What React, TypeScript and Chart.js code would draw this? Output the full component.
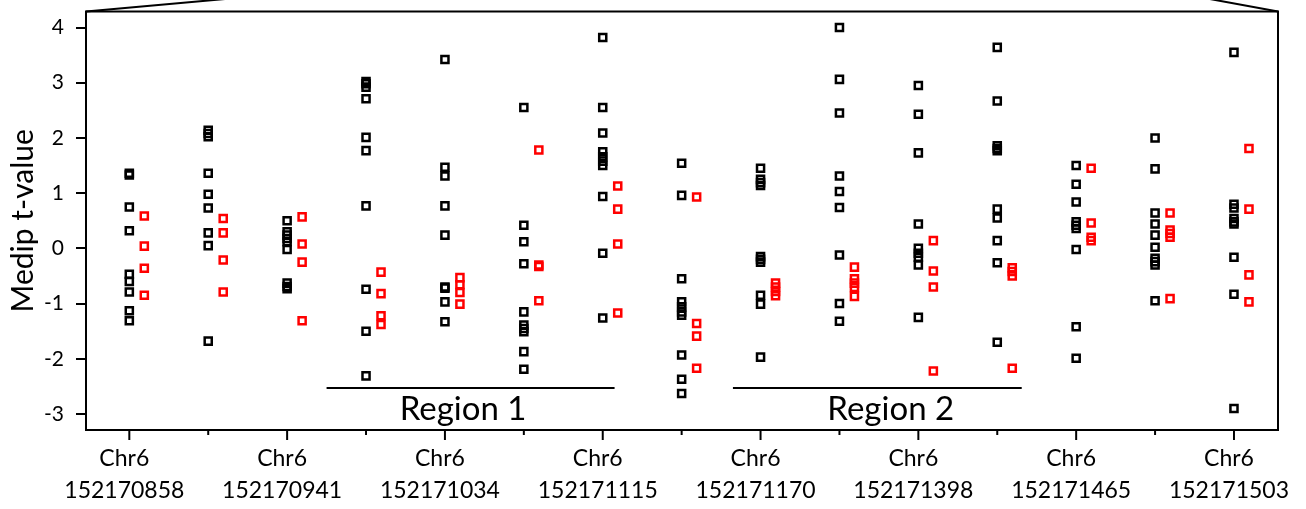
import React, { useEffect, useRef } from "react";
import { Chart, registerables } from "chart.js";
Chart.register(...registerables);

const FONT = "Lato, 'Open Sans', sans-serif";

const chromosome = "Chr6";
const labeledPositions = ["152170858", "152170941", "152171034", "152171115", "152171170", "152171398", "152171465", "152171503"];
const categoryCount = 15;
const yTicks = [-3, -2, -1, 0, 1, 2, 3, 4];

const controlValues: number[][] = [
  [1.36, 1.33, 0.75, 0.32, -0.47, -0.6, -0.79, -1.13, -1.31],
  [2.14, 2.08, 2.02, 1.36, 0.98, 0.73, 0.28, 0.05, -1.68],
  [0.5, 0.3, 0.24, 0.18, 0.12, -0.02, -0.63, -0.69, -0.73],
  [3.02, 2.98, 2.92, 2.71, 2.01, 1.77, 0.77, -0.74, -1.5, -2.31],
  [3.42, 1.47, 1.31, 0.77, 0.24, -0.7, -0.72, -0.97, -1.33],
  [2.55, 0.42, 0.12, -0.28, -1.15, -1.39, -1.45, -1.51, -1.87, -2.19],
  [3.82, 2.55, 2.09, 1.75, 1.66, 1.58, 1.5, 0.94, -0.09, -1.26],
  [1.54, 0.96, -0.55, -0.97, -1.06, -1.15, -1.21, -1.93, -2.37, -2.63],
  [1.45, 1.25, 1.19, 1.14, -0.15, -0.2, -0.25, -0.85, -1.01, -1.97],
  [4.0, 3.06, 2.45, 1.31, 1.03, 0.74, -0.12, -1.0, -1.32],
  [2.95, 2.43, 1.73, 0.44, 0.0, -0.09, -0.16, -0.3, -1.25],
  [3.64, 2.67, 1.86, 1.81, 1.77, 0.71, 0.55, 0.14, -0.26, -1.7],
  [1.5, 1.16, 0.84, 0.48, 0.42, 0.36, -0.02, -1.42, -1.99],
  [2.0, 1.44, 0.64, 0.44, 0.24, 0.02, -0.18, -0.24, -0.3, -0.95],
  [3.55, 0.8, 0.73, 0.54, 0.48, 0.44, -0.16, -0.83, -2.9],
];

const caseValues: number[][] = [
  [0.585, 0.04, -0.36, -0.85],
  [0.54, 0.28, -0.21, -0.79],
  [0.57, 0.08, -0.25, -1.31],
  [-0.43, -0.82, -1.22, -1.38],
  [-0.53, -0.66, -0.8, -1.01],
  [1.78, -0.3, -0.33, -0.95],
  [1.13, 0.71, 0.08, -1.17],
  [0.93, -1.36, -1.59, -2.17],
  [-0.63, -0.7, -0.78, -0.86],
  [-0.34, -0.55, -0.63, -0.71, -0.87],
  [0.14, -0.41, -0.7, -2.22],
  [-0.35, -0.42, -0.5, -2.17],
  [1.45, 0.46, 0.2, 0.14],
  [0.64, 0.33, 0.27, 0.2, -0.91],
  [1.81, 0.71, -0.48, -0.97],
];

const caseOffset = 0.19;

const regionNames = ["Region 1", "Region 2"];
const regionStart = [2.5, 7.65];
const regionEnd = [6.15, 11.31];
const regionLabelCenter = [4.23, 9.65];
const regionLineValue = -2.53;
const regionLabelValue = -3.11;

const decorPlugin = {
  id: "decor",
  afterDatasetsDraw(chart: any) {
    const { ctx } = chart;
    const xs = chart.scales.x;
    const ys = chart.scales.y;
    ctx.save();
    ctx.strokeStyle = "#000";
    ctx.fillStyle = "#000";
    ctx.lineWidth = 2;
    regionNames.forEach((name, i) => {
      const yl = ys.getPixelForValue(regionLineValue);
      ctx.beginPath();
      ctx.moveTo(xs.getPixelForValue(regionStart[i]), yl);
      ctx.lineTo(xs.getPixelForValue(regionEnd[i]), yl);
      ctx.stroke();
      ctx.font = `33px ${FONT}`;
      ctx.textAlign = "center";
      ctx.textBaseline = "alphabetic";
      ctx.fillText(name, xs.getPixelForValue(regionLabelCenter[i]), ys.getPixelForValue(regionLabelValue));
    });
    ctx.restore();
  },
  afterDraw(chart: any) {
    const { ctx, chartArea } = chart;
    const xs = chart.scales.x;
    const { left, right, top, bottom } = chartArea;
    ctx.save();
    ctx.strokeStyle = "#000";
    ctx.lineWidth = 2;
    ctx.strokeRect(left, top, right - left, bottom - top);
    // zoom connector lines
    ctx.beginPath();
    ctx.moveTo(left, top);
    ctx.lineTo(left + 128 * 2, top - 11.5 * 2);
    ctx.moveTo(right, top);
    ctx.lineTo(right - 60 * 2, top - 11 * 2);
    ctx.stroke();
    // x tick marks
    for (let i = 0; i < categoryCount; i++) {
      const px = xs.getPixelForValue(i);
      ctx.beginPath();
      ctx.moveTo(px, bottom);
      ctx.lineTo(px, bottom + (i % 2 === 0 ? 10 : 5));
      ctx.stroke();
    }
    ctx.restore();
  },
};

export default function App() {
  const ref = useRef<HTMLCanvasElement>(null);
  useEffect(() => {
    document.body.style.margin = "0";
    const controlData: { x: number; y: number }[] = [];
    const caseData: { x: number; y: number }[] = [];
    controlValues.forEach((vals, i) => vals.forEach((v) => controlData.push({ x: i, y: v })));
    caseValues.forEach((vals, i) => vals.forEach((v) => caseData.push({ x: i + caseOffset, y: v })));
    const chart = new Chart(ref.current!, {
      type: "scatter",
      data: {
        datasets: [
          {
            label: "control",
            data: controlData,
            pointStyle: "rect",
            radius: 5,
            borderWidth: 2.5,
            borderColor: "#000000",
            backgroundColor: "rgba(0,0,0,0)",
          },
          {
            label: "case",
            data: caseData,
            pointStyle: "rect",
            radius: 5,
            borderWidth: 2.5,
            borderColor: "#ff0000",
            backgroundColor: "rgba(0,0,0,0)",
          },
        ],
      },
      options: {
        responsive: false,
        animation: false,
        layout: { padding: { top: 11.5, right: 28, left: 0, bottom: 0 } },
        plugins: { legend: { display: false }, tooltip: { enabled: false } },
        scales: {
          x: {
            type: "linear",
            min: -0.549,
            max: 14.558,
            afterFit: (s: any) => {
              s.height = 79;
              s.paddingLeft = 0;
              s.paddingRight = 0;
            },
            afterBuildTicks: (s: any) => {
              s.ticks = Array.from({ length: categoryCount }, (_, i) => ({ value: i }));
            },
            grid: { display: false, drawTicks: true, tickLength: 10 },
            border: { display: false },
            ticks: {
              autoSkip: false,
              maxRotation: 0,
              padding: 3,
              labelOffset: -5,
              color: "#000",
              font: { family: FONT, size: 23, lineHeight: 32 / 23 },
              callback: (v: any) => {
                const i = Math.round(Number(v));
                return i % 2 === 0 ? [chromosome, labeledPositions[i / 2]] : "";
              },
            },
          },
          y: {
            type: "linear",
            min: -3.29,
            max: 4.29,
            afterFit: (s: any) => {
              s.width = 86;
              s.paddingTop = 0;
              s.paddingBottom = 0;
            },
            afterBuildTicks: (s: any) => {
              s.ticks = yTicks.map((v) => ({ value: v }));
            },
            grid: {
              display: true,
              drawOnChartArea: false,
              drawTicks: true,
              tickLength: 10,
              color: "#000",
              lineWidth: 2,
            },
            border: { display: false },
            title: {
              display: true,
              text: "Medip t-value",
              color: "#000",
              font: { family: FONT, size: 30 },
              padding: { top: 5, bottom: 0 },
            },
            ticks: {
              padding: 12,
              color: "#000",
              font: { family: FONT, size: 21 },
            },
          },
        },
      },
      plugins: [decorPlugin],
    });
    return () => chart.destroy();
  }, []);
  return (
    <div style={{ width: 1306, height: 509 }}>
      <canvas ref={ref} width={1306} height={509} />
    </div>
  );
}
